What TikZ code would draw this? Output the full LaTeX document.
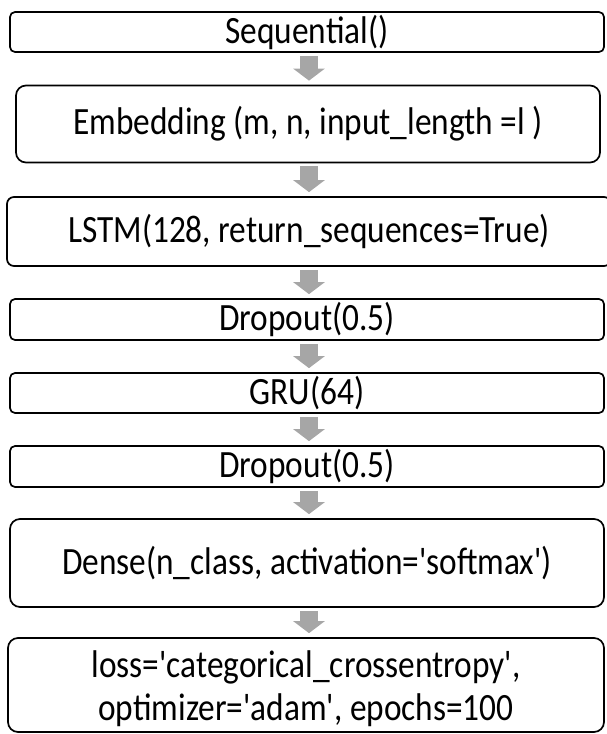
\documentclass[tikz,border=0pt]{standalone}
\usepackage{fontspec}
\usepackage{graphicx}
\setmainfont{Carlito}[Ligatures=TeXOff]
\usetikzlibrary{arrows.meta,calc}
\definecolor{flowgray}{HTML}{A6A6A6}
% layer captions are set slightly taller than wide
\newcommand\tallcap[1]{\scalebox{1.01}[1.17]{#1}}
\tikzset{
  layer/.style={draw=black, line width=1.7pt, inner sep=0pt, align=center,
    font=\fontsize{33}{37}\selectfont},
  flow/.style={draw=flowgray, line width=18pt,
    -{Triangle[width=31pt,length=12pt,fill=flowgray]}}
}
\begin{document}
\begin{tikzpicture}[x=1pt,y=-1pt]
  \useasboundingbox (0,0) rectangle (606,734);
  \coordinate (ax) at (309,0);
  % model layers, top to bottom
  \node[layer, rounded corners=5pt, minimum width=594pt, minimum height=40pt]
    (seq) at (307,32) {\tallcap{Sequential()}};
  \node[layer, rounded corners=10pt, minimum width=584pt, minimum height=77pt]
    (emb) at (308,124) {\tallcap{Embedding (m, n, input\_length =l )}};
  \node[layer, rounded corners=7pt, minimum width=604pt, minimum height=69pt]
    (lstm) at (309,231.5) {\tallcap{LSTM(128, return\_sequences=True)}};
  \node[layer, rounded corners=5pt, minimum width=594pt, minimum height=41pt]
    (drop1) at (307,319.5) {\tallcap{Dropout(0.5)}};
  \node[layer, rounded corners=5pt, minimum width=594pt, minimum height=40pt]
    (gru) at (307,393) {\tallcap{GRU(64)}};
  \node[layer, rounded corners=5pt, minimum width=594pt, minimum height=41pt]
    (drop2) at (307,466.5) {\tallcap{Dropout(0.5)}};
  \node[layer, rounded corners=10pt, minimum width=594pt, minimum height=88pt]
    (dense) at (307,563) {\tallcap{Dense(n\_class, activation='softmax')}};
  \node[layer, rounded corners=10pt, minimum width=596pt, minimum height=94pt]
    (comp) at (306,685) {\raisebox{-5pt}[\height][\depth]{\tallcap{\begin{tabular}{@{}c@{}}loss='categorical\_crossentropy',\\optimizer='adam', epochs=100\end{tabular}}}};
  % grey block arrows between consecutive layers
  \foreach \a/\b in {seq/emb, emb/lstm, lstm/drop1, drop1/gru, gru/drop2,
                     drop2/dense, dense/comp}
    \draw[flow] ($(\a.south -| ax)+(0,-3pt)$) -- ($(\b.north -| ax)+(0,4pt)$);
\end{tikzpicture}
\end{document}
